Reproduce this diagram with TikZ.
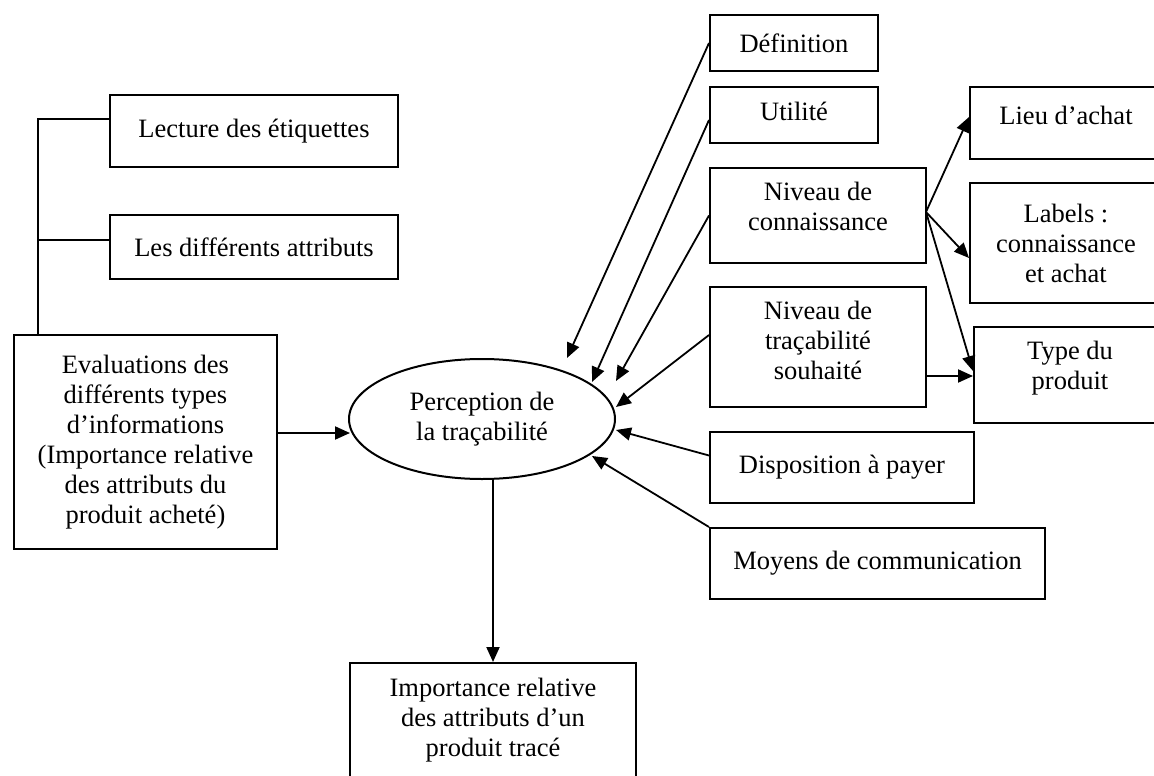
\documentclass[tikz,border=0pt]{standalone}
\usepackage{fontspec}
\setmainfont{Liberation Serif}
\usetikzlibrary{arrows.meta,shapes.geometric}
\begin{document}
\begin{tikzpicture}[x=1pt,y=-1pt,
  every node/.style={font=\fontsize{26.5}{30}\selectfont, align=center, inner sep=0pt},
  box/.style={draw, line width=2pt, rectangle},
  ell/.style={draw, line width=2pt, ellipse},
  link/.style={line width=2pt},
  arr/.style={line width=2pt, -{Triangle[length=15pt,width=13pt]}},
  thin arr/.style={line width=1.8pt, -{Triangle[length=15pt,width=13pt]}}]
\useasboundingbox (0,0) rectangle (1154,776);
% left boxes
\node[box, minimum width=288pt, minimum height=72pt] (lect) at (254,131) {Lecture des étiquettes};
\node[box, minimum width=288pt, minimum height=64pt] (attr) at (254,247) {Les différents attributs};
\node[box, minimum width=263pt, minimum height=214pt] (eval) at (145.5,442) {Evaluations des\\différents types\\d’informations\\(Importance relative\\des attributs du\\produit acheté)};
% ellipse
\node[ell, minimum width=266pt, minimum height=120pt] (perc) at (482,419) {Perception de\\la traçabilité};
% middle column
\node[box, minimum width=168pt, minimum height=56pt] (def) at (794,43) {Définition};
\node[box, minimum width=168pt, minimum height=56pt, text height=19pt, text depth=9pt] (util) at (794,115) {Utilité};
\node[box, minimum width=216pt, minimum height=95pt, text depth=18pt] (nconn) at (818,215.5) {Niveau de\\connaissance};
\node[box, minimum width=216pt, minimum height=120pt, text depth=14pt] (ntrac) at (818,347) {Niveau de\\traçabilité\\souhaité};
\node[box, minimum width=264pt, minimum height=71pt] (disp) at (842,467.5) {Disposition à payer};
\node[box, minimum width=335pt, minimum height=71pt] (moy) at (877.5,563.5) {Moyens de communication};
% right column
\node[box, minimum width=192pt, minimum height=72pt, text height=19pt, text depth=17pt] (lieu) at (1066,123) {Lieu d’achat};
\node[box, minimum width=192pt, minimum height=120pt] (lab) at (1066,243) {Labels :\\connaissance\\et achat};
\node[box, minimum width=192pt, minimum height=96pt, text depth=20pt] (type) at (1070,375) {Type du\\produit};
% bottom
\node[box, minimum width=286pt, minimum height=115pt] (imp) at (493,720.5) {Importance relative\\des attributs d’un\\produit tracé};
% tree on the left
\coordinate (tl) at (38,119);
\coordinate (tm) at (38,240);
\draw[link] (eval.north -| tl) -- (tl) -- (tl -| lect.west);
\draw[link] (tm) -- (tm -| attr.west);
% arrow tips near ellipse
\coordinate (t1) at (567,358);
\coordinate (t2) at (592,382);
\coordinate (t3) at (616,381);
\coordinate (t4) at (616,407);
\coordinate (t5) at (616,430);
\coordinate (t6) at (592,456);
\coordinate (t0) at (350,433);
\draw[thin arr] (def.west) -- (t1);
\draw[thin arr] ([yshift=-5pt]util.west) -- (t2);
\draw[thin arr] (nconn.west) -- (t3);
\draw[thin arr] ([yshift=12pt]ntrac.west) -- (t4);
\draw[thin arr] ([yshift=12pt]disp.west) -- (t5);
\draw[thin arr] (moy.north west) -- (t6);
\draw[arr] (eval.east |- t0) -- (t0);
\draw[arr] (imp.north |- perc.south) -- (imp.north);
% from niveau de connaissance
\coordinate (nc) at (926,212);
\draw[thin arr] (nc) -- ([yshift=6pt]lieu.west);
\draw[thin arr] (nc) -- ([yshift=-15pt]lab.west);
\draw[thin arr] (nc) -- ([yshift=4pt]type.west);
\draw[arr] ([yshift=-29pt]ntrac.east) -- ([yshift=-1pt]type.west);
\end{tikzpicture}
\end{document}
